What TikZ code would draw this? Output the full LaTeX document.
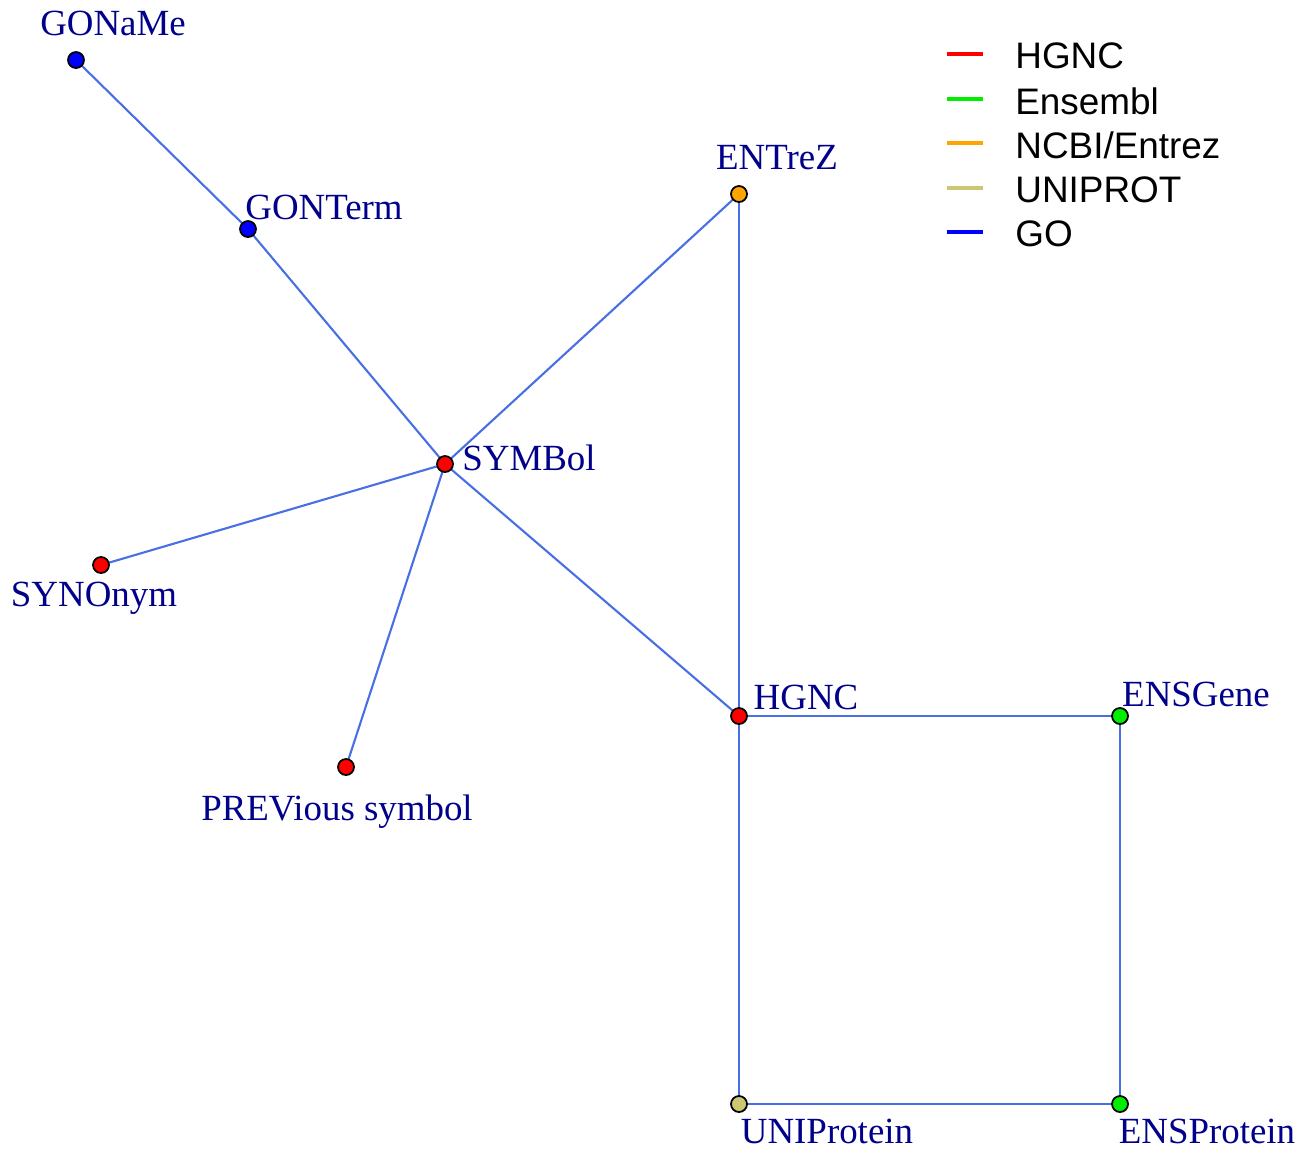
\documentclass[tikz,border=0pt]{standalone}
\usepackage{fontspec}
\setmainfont{Liberation Serif}
\newfontfamily\legendfont{Liberation Sans}
\definecolor{edgeblue}{RGB}{72,112,228}
\definecolor{labelblue}{RGB}{0,0,139}
\definecolor{uniprot}{RGB}{205,198,115}
\definecolor{ensgreen}{RGB}{0,238,0}
\definecolor{ncbi}{RGB}{255,165,0}
\tikzset{
  dot/.style={circle, draw=black, line width=1pt, inner sep=0pt, minimum size=0.32cm},
  tag/.style={anchor=base, text=labelblue, inner sep=0pt, font=\fontsize{21}{25}\selectfont},
  link/.style={draw=edgeblue, line width=1.2pt},
}

\begin{document}
\begin{tikzpicture}[x=0.02cm, y=-0.02cm]
				\useasboundingbox (0,0) rectangle (1301,1154);

				% Edges first, dots on top
				\coordinate (goname) at (76,60);
				\coordinate (gonterm) at (248,229);
				\coordinate (entrez) at (739,194);
				\coordinate (symbol) at (445,464);
				\coordinate (synonym) at (101,565);
				\coordinate (previous) at (346,767);
				\coordinate (hgnc) at (739,716);
				\coordinate (ensgene) at (1120,716);
				\coordinate (uniprotein) at (739,1104);
				\coordinate (ensprotein) at (1120,1104);

				\draw[link] (goname) -- (gonterm);
				\draw[link] (gonterm) -- (symbol);
				\draw[link] (symbol) -- (entrez);
				\draw[link] (symbol) -- (synonym);
				\draw[link] (symbol) -- (previous);
				\draw[link] (symbol) -- (hgnc);
				\draw[link] (entrez) -- (hgnc);
				\draw[link] (hgnc) -- (ensgene);
				\draw[link] (hgnc) -- (uniprotein);
				\draw[link] (ensgene) -- (ensprotein);
				\draw[link] (uniprotein) -- (ensprotein);

				% Nodes
				\node (goname-d) [dot, fill=blue] at (goname) {};
				\node (gonterm-d) [dot, fill=blue] at (gonterm) {};
				\node (entrez-d) [dot, fill=ncbi] at (entrez) {};
				\node (symbol-d) [dot, fill=red] at (symbol) {};
				\node (synonym-d) [dot, fill=red] at (synonym) {};
				\node (previous-d) [dot, fill=red] at (previous) {};
				\node (hgnc-d) [dot, fill=red] at (hgnc) {};
				\node (ensgene-d) [dot, fill=ensgreen] at (ensgene) {};
				\node (uniprotein-d) [dot, fill=uniprot] at (uniprotein) {};
				\node (ensprotein-d) [dot, fill=ensgreen] at (ensprotein) {};

				% Labels
				\node (goname-l) [tag] at (113,35) {GONaMe};
				\node (gonterm-l) [tag] at (324,219) {GONTerm};
				\node (entrez-l) [tag] at (777,169) {ENTreZ};
				\node (symbol-l) [tag] at (529,470) {SYMBol};
				\node (synonym-l) [tag] at (94,606) {SYNOnym};
				\node (previous-l) [tag] at (337,820) {PREVious symbol};
				\node (hgnc-l) [tag] at (806,709) {HGNC};
				\node (ensgene-l) [tag] at (1196,706) {ENSGene};
				\node (uniprotein-l) [tag] at (827,1143) {UNIProtein};
				\node (ensprotein-l) [tag] at (1207,1143) {ENSProtein};

				% Legend
				\foreach \col/\txt/\y [count=\i] in {red/HGNC/54, ensgreen/Ensembl/99, ncbi/NCBI\slash Entrez/143, uniprot/UNIPROT/188, blue/GO/232}{
					\draw[\col, line width=2pt] (947,\y) -- (983,\y);
					\node (key-\i) [anchor=west, inner sep=0pt, font=\legendfont\fontsize{21}{25}\selectfont] at (1015,\y+2) {\txt};
				}
			\end{tikzpicture}
\end{document}
